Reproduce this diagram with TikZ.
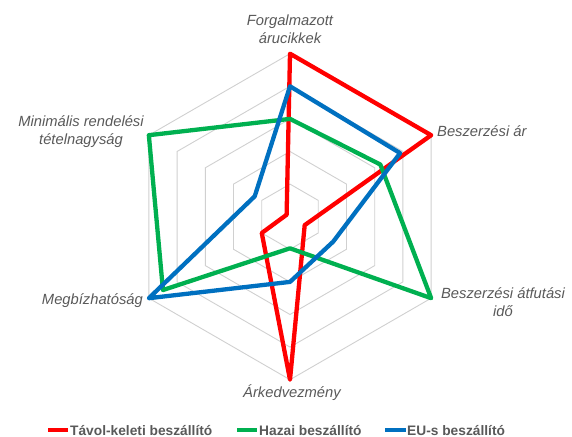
\documentclass[tikz,border=0pt]{standalone}
\usepackage{fontspec}
\setmainfont{Liberation Sans}
\usetikzlibrary{calc}
\definecolor{sred}{HTML}{FF0000}
\definecolor{sgreen}{HTML}{00B050}
\definecolor{sblue}{HTML}{0070C0}
\definecolor{gridc}{HTML}{D0D0D0}
\definecolor{labc}{HTML}{595959}
\begin{document}
\begin{tikzpicture}[x=1bp,y=1bp,
  gridline/.style={draw=gridc, line width=0.9bp},
  series/.style={line width=4.3bp, line join=round, line cap=round},
  axislabel/.style={inner sep=0pt, text=labc, font=\fontsize{14.8}{18}\selectfont\itshape, align=center},
  legtext/.style={inner sep=0pt, anchor=west, text=labc, font=\fontsize{13.8}{16}\selectfont\bfseries},
  legline/.style={line width=4bp}]
\useasboundingbox (0,0) rectangle (572,437);
\coordinate (c) at (290,220.3);
\def\u{32.6}
% grid
\foreach \r in {1,...,5}{
  \draw[gridline, shift={(c)}] (90:\r*\u) -- (30:\r*\u) -- (-30:\r*\u) -- (-90:\r*\u) -- (210:\r*\u) -- (150:\r*\u) -- cycle;
}
% red series
\coordinate (r1) at ($(c)+(90:5*\u)$);
\coordinate (r2) at ($(c)+(30:5*\u)$);
\coordinate (r3) at ($(c)+(-30:0.52*\u)$);
\coordinate (r4) at ($(c)+(-90:5*\u)$);
\coordinate (r5) at ($(c)+(210:1.0*\u)$);
\coordinate (r6) at ($(c)+(150:0.12*\u)$);
% green series
\coordinate (g1) at ($(c)+(90:3.0*\u)$);
\coordinate (g2) at ($(c)+(30:3.2*\u)$);
\coordinate (g3) at ($(c)+(-30:5*\u)$);
\coordinate (g4) at ($(c)+(-90:0.97*\u)$);
\coordinate (g5) at ($(c)+(210:4.5*\u)$);
\coordinate (g6) at ($(c)+(150:5*\u)$);
% blue series
\coordinate (b1) at ($(c)+(90:4.0*\u)$);
\coordinate (b2) at ($(c)+(30:3.9*\u)$);
\coordinate (b3) at ($(c)+(-30:1.53*\u)$);
\coordinate (b4) at ($(c)+(-90:2.0*\u)$);
\coordinate (b5) at ($(c)+(210:5*\u)$);
\coordinate (b6) at ($(c)+(150:1.25*\u)$);
\draw[series, sred] (r1) -- (r2) -- (r3) -- (r4) -- (r5) -- (r6) -- cycle;
\draw[series, sgreen] (g1) -- (g2) -- (g3) -- (g4) -- (g5) -- (g6) -- cycle;
\draw[series, sblue] (b1) -- (b2) -- (b3) -- (b4) -- (b5) -- (b6) -- cycle;
% axis labels
\node[axislabel] (lforg) at (290,408) {Forgalmazott\\árucikkek};
\node[axislabel] (lar) [anchor=west] at (437,306) {Beszerzési ár};
\node[axislabel] (latf) at (503,135) {Beszerzési átfutási\\idő};
\node[axislabel] (lark) at (292,44) {Árkedvezmény};
\node[axislabel] (lmeg) [anchor=east] at (143,136) {Megbízhatóság};
\node[axislabel] (lmin) at (81,305) {Minimális rendelési\\tételnagyság};
% legend
\coordinate (lr1) at (48,6.5); \coordinate (lr2) at (68,6.5);
\coordinate (lg1) at (237,6.5); \coordinate (lg2) at (257,6.5);
\coordinate (lb1) at (385,6.5); \coordinate (lb2) at (406,6.5);
\draw[legline, sred] (lr1) -- (lr2);
\draw[legline, sgreen] (lg1) -- (lg2);
\draw[legline, sblue] (lb1) -- (lb2);
\node[legtext] (tr) at (70,6.5) {Távol-keleti beszállító};
\node[legtext] (tg) at (259,6.5) {Hazai beszállító};
\node[legtext] (tb) at (407,6.5) {EU-s beszállító};
\end{tikzpicture}
\end{document}
